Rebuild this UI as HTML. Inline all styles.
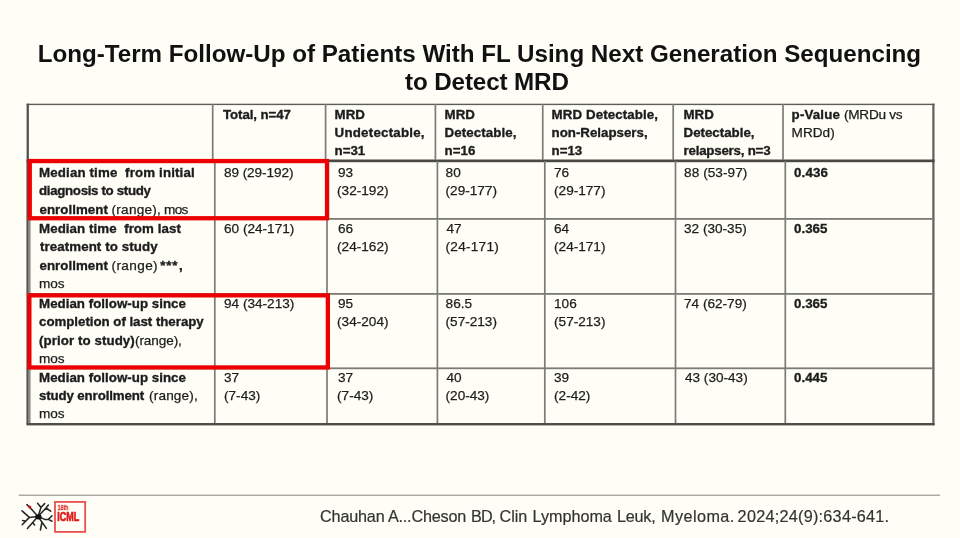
<!DOCTYPE html>
<html><head><meta charset="utf-8"><style>
html,body{margin:0;padding:0;}
body{width:960px;height:538px;background:#fefdf6;position:relative;overflow:hidden;font-family:"Liberation Sans",sans-serif;color:#1c1c1c;}
.ov{position:absolute;left:0;top:0;}
#wrap{position:absolute;left:0;top:0;width:960px;height:538px;filter:blur(0.5px);}
.t{position:absolute;white-space:pre;font-weight:bold;font-size:13.3px;line-height:18.3px;-webkit-text-stroke:0.35px #1c1c1c;}
.t .r{font-weight:normal;font-size:13.6px;-webkit-text-stroke:0.25px #1c1c1c;}
.title{position:absolute;font-weight:bold;font-size:24.2px;color:#111;white-space:pre;line-height:27px;}
.cite{position:absolute;font-size:16.2px;line-height:20px;color:#333;white-space:pre;-webkit-text-stroke:0.2px #333;}
.logo{position:absolute;left:54.5px;top:501.5px;width:28px;height:27px;border:1.6px solid #e8474b;}
</style></head><body>
<div id="wrap">
<svg class="ov" width="960" height="538" viewBox="0 0 960 538"><rect x="26.6" y="103.7" width="908.0" height="1.4" fill="#5c5c58"/><rect x="26.6" y="103.7" width="2.3" height="57" fill="#525250"/><rect x="26.6" y="160.6" width="4.0" height="264.0" fill="#8c8c88"/><rect x="26.6" y="160.6" width="1.6" height="264.0" fill="#52524f"/><rect x="932.3" y="103.7" width="2.2" height="321.5" fill="#5e5e5a"/><rect x="26.6" y="423.0" width="908.0" height="2.4" fill="#4e4e4a"/><rect x="26.6" y="159.5" width="908.0" height="2.7" fill="#484844"/><rect x="26.6" y="218.0" width="908.0" height="1.8" fill="#7c7c76"/><rect x="26.6" y="293.0" width="908.0" height="1.8" fill="#7c7c76"/><rect x="26.6" y="367.40000000000003" width="908.0" height="1.8" fill="#7c7c76"/><rect x="211.85" y="104" width="1.7" height="56" fill="#7c7c76"/><rect x="324.75" y="104" width="1.7" height="56" fill="#7c7c76"/><rect x="434.54999999999995" y="104" width="1.7" height="56" fill="#7c7c76"/><rect x="541.9" y="104" width="1.7" height="56" fill="#7c7c76"/><rect x="672.35" y="104" width="1.7" height="56" fill="#7c7c76"/><rect x="782.15" y="104" width="1.7" height="56" fill="#7c7c76"/><rect x="213.95000000000002" y="161" width="1.7" height="262" fill="#7c7c76"/><rect x="326.15" y="161" width="1.7" height="262" fill="#7c7c76"/><rect x="436.54999999999995" y="161" width="1.7" height="262" fill="#7c7c76"/><rect x="543.9499999999999" y="161" width="1.7" height="262" fill="#7c7c76"/><rect x="674.65" y="161" width="1.7" height="262" fill="#7c7c76"/><rect x="784.4499999999999" y="161" width="1.7" height="262" fill="#7c7c76"/><rect x="18.8" y="494.5" width="921.2" height="1.5" fill="#ababa5"/></svg>
<div class="t" style="left:223.00px;top:106.25px;letter-spacing:-0.100px;"><b>Total, n=47</b></div><div class="t" style="left:334.58px;top:106.25px;"><b>MRD</b></div><div class="t" style="left:334.58px;top:124.25px;letter-spacing:0.233px;"><b>Undetectable,</b></div><div class="t" style="left:334.58px;top:142.25px;"><b>n=31</b></div><div class="t" style="left:444.60px;top:106.25px;"><b>MRD</b></div><div class="t" style="left:444.60px;top:124.25px;letter-spacing:0.080px;"><b>Detectable,</b></div><div class="t" style="left:444.60px;top:142.25px;"><b>n=16</b></div><div class="t" style="left:551.56px;top:106.25px;letter-spacing:0.114px;"><b>MRD Detectable,</b></div><div class="t" style="left:551.56px;top:124.25px;"><b>non-Relapsers,</b></div><div class="t" style="left:551.56px;top:142.25px;"><b>n=13</b></div><div class="t" style="left:683.54px;top:106.25px;"><b>MRD</b></div><div class="t" style="left:683.54px;top:124.25px;"><b>Detectable,</b></div><div class="t" style="left:683.54px;top:142.25px;letter-spacing:-0.215px;"><b>relapsers, n=3</b></div><div class="t" style="left:791.60px;top:106.25px;letter-spacing:0.167px;"><b>p-Value</b></div><div class="t" style="left:844.02px;top:106.25px;letter-spacing:-0.257px;"><span class="r">(MRDu vs</span></div><div class="t" style="left:791.62px;top:124.25px;"><span class="r">MRDd)</span></div><div class="t" style="left:39.04px;top:164.25px;letter-spacing:0.142px;"><b>Median time&nbsp; from initial</b></div><div class="t" style="left:39.04px;top:182.25px;letter-spacing:-0.329px;"><b>diagnosis to study</b></div><div class="t" style="left:39.48px;top:201.25px;letter-spacing:0.044px;"><b>enrollment</b></div><div class="t" style="left:111.58px;top:201.25px;letter-spacing:0.229px;"><span class="r">(range),</span></div><div class="t" style="left:164.06px;top:201.25px;letter-spacing:-0.700px;"><span class="r">mos</span></div><div class="t" style="left:224.02px;top:164.25px;letter-spacing:-0.080px;"><span class="r">89 (29-192)</span></div><div class="t" style="left:338.00px;top:164.25px;"><span class="r">93</span></div><div class="t" style="left:337.10px;top:182.25px;"><span class="r">(32-192)</span></div><div class="t" style="left:445.58px;top:164.25px;"><span class="r">80</span></div><div class="t" style="left:445.58px;top:182.25px;"><span class="r">(29-177)</span></div><div class="t" style="left:554.06px;top:164.25px;"><span class="r">76</span></div><div class="t" style="left:554.06px;top:182.25px;"><span class="r">(29-177)</span></div><div class="t" style="left:684.06px;top:164.25px;letter-spacing:0.067px;"><span class="r">88 (53-97)</span></div><div class="t" style="left:794.06px;top:164.25px;letter-spacing:0.150px;"><b>0.436</b></div><div class="t" style="left:39.04px;top:220.25px;letter-spacing:0.067px;"><b>Median time&nbsp; from last</b></div><div class="t" style="left:39.94px;top:238.25px;letter-spacing:0.094px;"><b>treatment to study</b></div><div class="t" style="left:39.48px;top:257.25px;letter-spacing:0.044px;"><b>enrollment</b></div><div class="t" style="left:111.58px;top:257.25px;letter-spacing:0.367px;"><span class="r">(range)</span></div><div class="t" style="left:160.16px;top:257.25px;letter-spacing:0.900px;"><b>***</b></div><div class="t" style="left:179.06px;top:257.25px;"><b>,</b></div><div class="t" style="left:39.04px;top:275.25px;letter-spacing:-0.100px;"><span class="r">mos</span></div><div class="t" style="left:224.02px;top:220.25px;"><span class="r">60 (24-171)</span></div><div class="t" style="left:338.00px;top:220.25px;"><span class="r">66</span></div><div class="t" style="left:337.10px;top:238.25px;"><span class="r">(24-162)</span></div><div class="t" style="left:446.48px;top:220.25px;"><span class="r">47</span></div><div class="t" style="left:445.58px;top:238.25px;letter-spacing:0.257px;"><span class="r">(24-171)</span></div><div class="t" style="left:554.06px;top:220.25px;"><span class="r">64</span></div><div class="t" style="left:554.06px;top:238.25px;"><span class="r">(24-171)</span></div><div class="t" style="left:684.06px;top:220.25px;"><span class="r">32 (30-35)</span></div><div class="t" style="left:794.06px;top:220.25px;"><b>0.365</b></div><div class="t" style="left:39.04px;top:295.25px;letter-spacing:0.029px;"><b>Median follow-up since</b></div><div class="t" style="left:39.04px;top:313.25px;letter-spacing:-0.032px;"><b>completion of last therapy</b></div><div class="t" style="left:39.02px;top:332.25px;letter-spacing:0.080px;"><b>(prior to study)</b></div><div class="t" style="left:135.06px;top:332.25px;letter-spacing:-0.114px;"><span class="r">(range),</span></div><div class="t" style="left:39.04px;top:350.25px;letter-spacing:-0.100px;"><span class="r">mos</span></div><div class="t" style="left:224.02px;top:295.25px;"><span class="r">94 (34-213)</span></div><div class="t" style="left:338.00px;top:295.25px;"><span class="r">95</span></div><div class="t" style="left:337.10px;top:313.25px;"><span class="r">(34-204)</span></div><div class="t" style="left:445.58px;top:295.25px;"><span class="r">86.5</span></div><div class="t" style="left:445.58px;top:313.25px;"><span class="r">(57-213)</span></div><div class="t" style="left:554.06px;top:295.25px;"><span class="r">106</span></div><div class="t" style="left:554.06px;top:313.25px;"><span class="r">(57-213)</span></div><div class="t" style="left:684.06px;top:295.25px;"><span class="r">74 (62-79)</span></div><div class="t" style="left:794.06px;top:295.25px;"><b>0.365</b></div><div class="t" style="left:39.04px;top:369.25px;letter-spacing:0.029px;"><b>Median follow-up since</b></div><div class="t" style="left:39.00px;top:387.25px;letter-spacing:-0.133px;"><b>study enrollment</b></div><div class="t" style="left:149.10px;top:387.25px;letter-spacing:0.143px;"><span class="r">(range),</span></div><div class="t" style="left:39.04px;top:405.25px;letter-spacing:-0.100px;"><span class="r">mos</span></div><div class="t" style="left:224.02px;top:369.25px;"><span class="r">37</span></div><div class="t" style="left:224.02px;top:387.25px;"><span class="r">(7-43)</span></div><div class="t" style="left:338.00px;top:369.25px;"><span class="r">37</span></div><div class="t" style="left:337.10px;top:387.25px;"><span class="r">(7-43)</span></div><div class="t" style="left:446.48px;top:369.25px;"><span class="r">40</span></div><div class="t" style="left:445.58px;top:387.25px;"><span class="r">(20-43)</span></div><div class="t" style="left:554.06px;top:369.25px;"><span class="r">39</span></div><div class="t" style="left:554.06px;top:387.25px;"><span class="r">(2-42)</span></div><div class="t" style="left:684.96px;top:369.25px;"><span class="r">43 (30-43)</span></div><div class="t" style="left:794.06px;top:369.25px;"><b>0.445</b></div><div class="title" style="left:37.70px;top:40.25px;letter-spacing:-0.014px;">Long-Term Follow-Up of Patients With FL Using Next Generation Sequencing</div><div class="title" style="left:405.06px;top:68.25px;letter-spacing:-0.117px;">to Detect MRD</div><div class="cite" style="left:320.08px;top:506.25px;letter-spacing:-0.188px;">Chauhan A...Cheson</div><div class="cite" style="left:471.10px;top:506.25px;letter-spacing:-1.000px;">BD,</div><div class="cite" style="left:499.60px;top:506.25px;letter-spacing:-0.067px;">Clin</div><div class="cite" style="left:532.58px;top:506.25px;letter-spacing:-0.029px;">Lymphoma</div><div class="cite" style="left:617.10px;top:506.25px;letter-spacing:-0.250px;">Leuk,</div><div class="cite" style="left:661.10px;top:506.25px;letter-spacing:0.429px;">Myeloma.</div><div class="cite" style="left:737.62px;top:506.25px;letter-spacing:0.267px;">2024;24(9):634-641.</div>
<svg class="ov" width="960" height="538" viewBox="0 0 960 538"><rect x="29.75" y="161.05" width="297.29999999999995" height="57.2" fill="none" stroke="#eb0004" stroke-width="4.3"/><rect x="29.349999999999998" y="295.34999999999997" width="298.5" height="72.10000000000004" fill="none" stroke="#eb0004" stroke-width="4.3"/></svg>

<svg class="ov" width="960" height="538" viewBox="0 0 960 538">
<g fill="none" stroke="#262626" stroke-width="1.55" stroke-linecap="round" stroke-linejoin="round">
<path d="M38 516.5 L41 507.5 L37.6 503.3 M41 507.5 L44.6 503.6"/>
<path d="M38 516.5 L46 508 L48.4 505 M46 508 L50.6 511.2"/>
<path d="M38 516.5 L44.8 519.4 L48.4 519.4 L52 515.8 M48.4 519.4 L52 521.2"/>
<path d="M38 516.5 L46.4 528.4 M42 522 L40.4 530"/>
<path d="M38 516.5 L27.4 528.4 M32.6 522.6 L34.6 525"/>
<path d="M38 516.5 L29.4 517.4 L22 510.8 M29.4 517.4 L22.2 524.8 M25 521 L22.6 520.6"/>
<path d="M38 516.5 L32 509.8 L27 504.6"/>
</g>
<ellipse cx="38.4" cy="516.8" rx="3.2" ry="2.6" fill="#111"/>
<circle cx="29.8" cy="507" r="1.5" fill="#e01010"/>
<rect x="55.0" y="501.9" width="30.2" height="30.0" fill="none" stroke="#e8504f" stroke-width="1.8"/>
<text x="0" y="0" transform="translate(57.4 509.7) scale(0.75 1)" font-family="Liberation Sans" font-size="7.6" fill="#e23030" stroke="#e23030" stroke-width="0.35">18th</text>
<text x="0" y="0" transform="translate(57.2 521.4) scale(0.66 1)" font-family="Liberation Sans" font-weight="bold" font-size="13.6" fill="#e01a1a" stroke="#e01a1a" stroke-width="0.7">ICML</text>
</svg>
</div>
</body></html>
